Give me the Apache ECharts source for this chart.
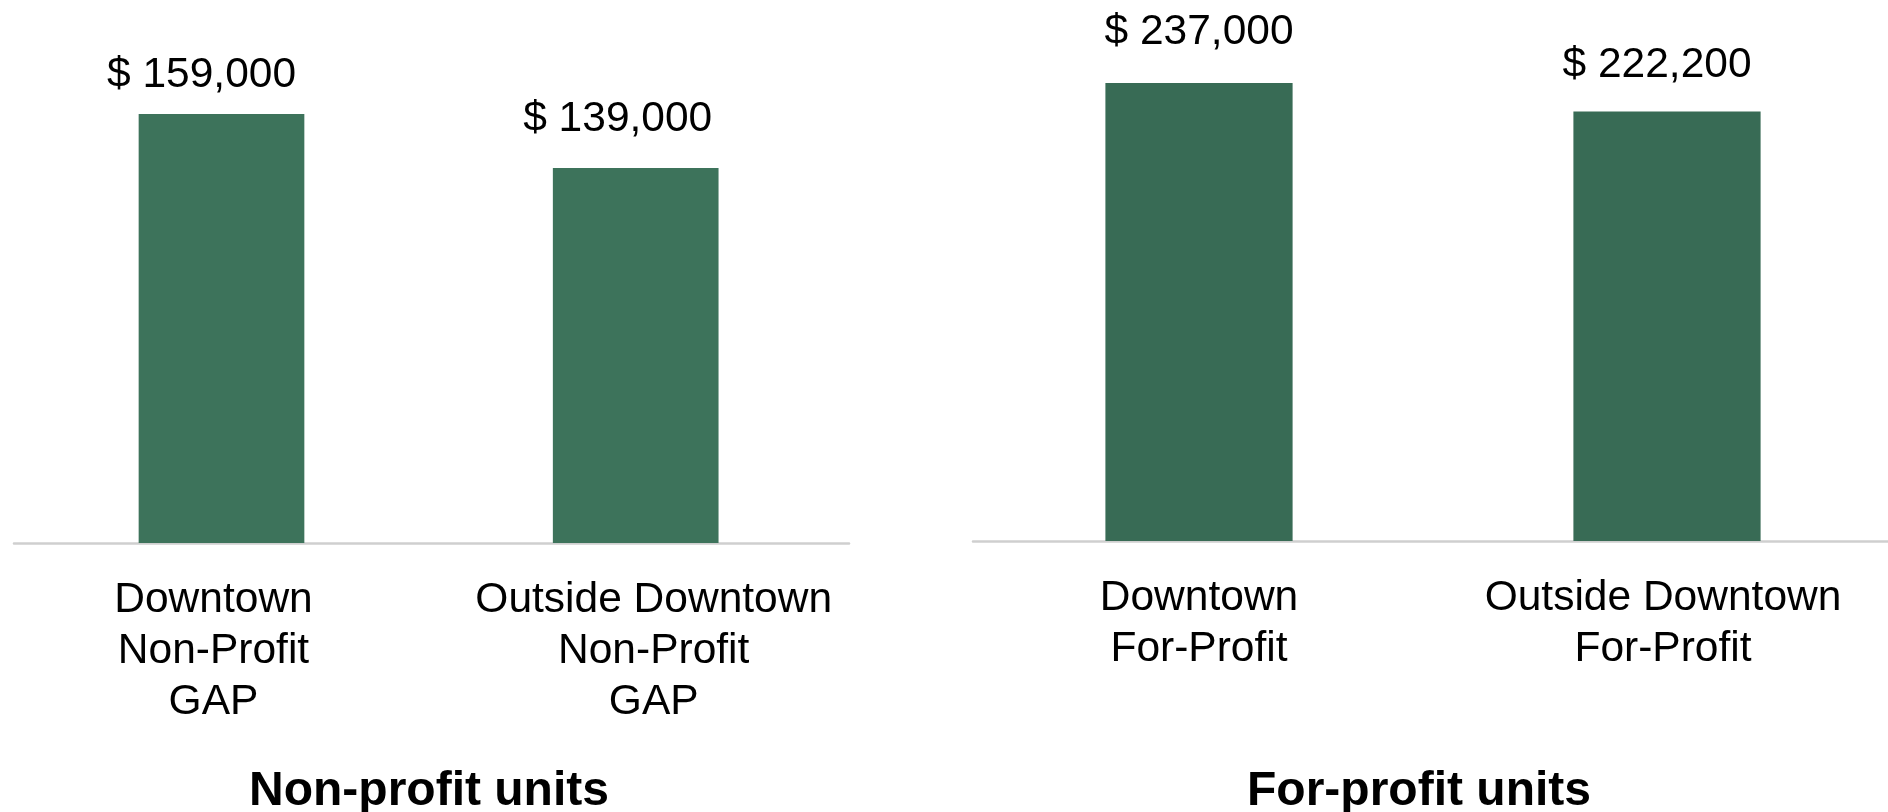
<!DOCTYPE html>
<html>
<head>
<meta charset="utf-8">
<script src="https://cdn.jsdelivr.net/npm/echarts@6/dist/echarts.min.js"></script>
<style>
html,body{margin:0;padding:0;background:#fff;}
#chart{width:1888px;height:812px;}
</style>
</head>
<body>
<div id="chart"></div>
<script>
// ---- data ----
const nonProfitCategories = ['Downtown\nNon-Profit\nGAP', 'Outside Downtown\nNon-Profit\nGAP'];
const nonProfitValues = [159000, 139000];
const forProfitCategories = ['Downtown\nFor-Profit', 'Outside Downtown\nFor-Profit'];
const forProfitValues = [237000, 222200];
const panelTitles = ['Non-profit units', 'For-profit units'];

// ---- styling (label nudges) ----
const npLabelNudge = [[-20, 10], [-18, 0]];
const fpLabelNudge = [[0, -2], [-10, 2]];
const npCatPadding = [[0, 16, 0, 0], [0, 0, 0, 36]];
const fpCatPadding = [[0, 0, 0, 0], [0, 8, 0, 0]];

const FONT = '"Liberation Sans", Arial, sans-serif';
const fmt = v => '$ ' + v.toLocaleString('en-US');

function catData(cats, pads) {
  return cats.map((c, i) => ({ value: c, textStyle: { padding: pads[i] } }));
}
function barData(vals, nudges) {
  return vals.map((v, i) => ({ value: v, label: { offset: nudges[i] } }));
}

const axisLabel = { color: '#000', fontFamily: FONT, fontSize: 42.5, lineHeight: 51, margin: 32, interval: 0 };
const baseLine = { show: true, onZero: false, lineStyle: { color: '#cfcfcf', width: 2.5 } };
const valueLabel = { show: true, position: 'top', distance: 27, color: '#000', fontFamily: FONT, fontSize: 42.5,
  formatter: p => fmt(p.value) };
const titleStyle = { fontFamily: FONT, fontSize: 48, fontWeight: 'bold', color: '#000' };

function baselineAxis(gridIndex) {
  return { gridIndex, type: 'value', min: 0, max: 1, axisLine: baseLine,
    axisLabel: { show: false }, axisTick: { show: false }, splitLine: { show: false } };
}
function hiddenY(gridIndex, max) {
  return { gridIndex, type: 'value', min: 0, max, show: false, splitLine: { show: false } };
}

const chart = echarts.init(document.getElementById('chart'), null, { renderer: 'canvas' });
chart.setOption({
  backgroundColor: '#ffffff',
  animation: false,
  title: [
    { text: panelTitles[0], left: 424, top: 763, textAlign: 'center', textStyle: titleStyle },
    { text: panelTitles[1], left: 1414, top: 763, textAlign: 'center', textStyle: titleStyle }
  ],
  grid: [
    // bar grids (category ticks at bar centres)
    { left: 221.5, width: 414.2, top: 114, bottom: 269, containLabel: false },
    { left: 1199, width: 468, top: 83, bottom: 271, containLabel: false },
    // baseline grids
    { left: 14, width: 835, top: 114, bottom: 269, containLabel: false },
    { left: 973, right: 0, top: 83, bottom: 271, containLabel: false }
  ],
  xAxis: [
    { gridIndex: 0, type: 'category', boundaryGap: false, data: catData(nonProfitCategories, npCatPadding),
      axisTick: { show: false }, axisLine: { show: false }, axisLabel: axisLabel },
    { gridIndex: 1, type: 'category', boundaryGap: false, data: catData(forProfitCategories, fpCatPadding),
      axisTick: { show: false }, axisLine: { show: false }, axisLabel: axisLabel },
    baselineAxis(2),
    baselineAxis(3)
  ],
  yAxis: [
    hiddenY(0, 'dataMax'),
    hiddenY(1, 'dataMax'),
    hiddenY(2, 1),
    hiddenY(3, 1)
  ],
  series: [
    { type: 'bar', xAxisIndex: 0, yAxisIndex: 0, data: barData(nonProfitValues, npLabelNudge), clip: false,
      barWidth: '40%', itemStyle: { color: '#3d735b' }, label: valueLabel },
    { type: 'bar', xAxisIndex: 1, yAxisIndex: 1, data: barData(forProfitValues, fpLabelNudge), clip: false,
      barWidth: '40%', itemStyle: { color: '#386b55' }, label: valueLabel }
  ]
});
</script>
</body>
</html>
